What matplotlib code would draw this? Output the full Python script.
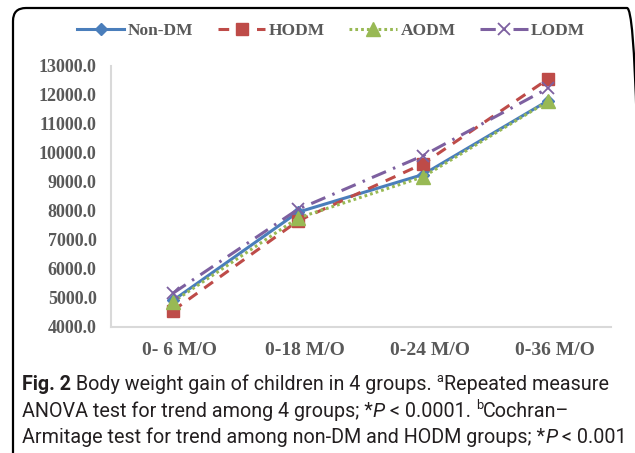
import matplotlib
matplotlib.use("Agg")
import matplotlib.pyplot as plt
from matplotlib.patches import FancyBboxPatch
from matplotlib.transforms import IdentityTransform, ScaledTranslation

categories = ["0- 6 M/O", "0-18 M/O", "0-24 M/O", "0-36 M/O"]
non_dm = [4900, 7950, 9250, 11800]
hodm = [4550, 7650, 9620, 12550]
aodm = [4850, 7750, 9170, 11780]
lodm = [5150, 8050, 9900, 12230]
yticks = [4000, 5000, 6000, 7000, 8000, 9000, 10000, 11000, 12000, 13000]

W, H = 635, 453
fig = plt.figure(figsize=(W / 100, H / 100), dpi=100)

frame = FancyBboxPatch((13, -30), 640 - 13, H - 8 + 30,
                       boxstyle="round,pad=0,rounding_size=13",
                       transform=IdentityTransform(), fill=False,
                       edgecolor="black", linewidth=1.6, clip_on=False)
fig.patches.append(frame)

ax = fig.add_axes([110.5 / W, 1 - 326.5 / H, 500 / W, (326.5 - 66) / H])
x = list(range(len(categories)))
gray = "#595959"
tfont = dict(family="Liberation Serif", weight="bold")

ax.plot(x, non_dm, color="#4A7EBB", lw=2.2, marker="D", ms=6.5, label="Non-DM")
ax.plot(x, hodm, color="#BE4B48", lw=2.2, linestyle=(0, (3.5, 2.8)), marker="s", ms=8.5,
        label="HODM")
ax.plot(x, aodm, color="#98B954", lw=2.2, linestyle=(0, (0.9, 1.0)), marker="^", ms=9.5,
        label="AODM")
ax.plot(x, lodm, color="#7D60A0", lw=2.2, linestyle=(0, (5, 2.5, 0.8, 2.5)), marker="x",
        ms=8, mew=1.3, label="LODM")

ax.set_xlim(-0.5, 3.5)
ax.set_ylim(4000, 13000)
ax.set_yticks(yticks)
ax.set_yticklabels([f"{v:.1f}" for v in yticks], color=gray, size=13, **tfont)
ax.set_xticks(x)
ax.set_xticklabels([])
xlab_tr = ax.get_xaxis_transform() + ScaledTranslation(7 / 100, -28.5 / 100, fig.dpi_scale_trans)
for xi, lab in zip(x, categories):
    ax.text(xi, 0, lab, transform=xlab_tr, ha="center", va="baseline", color=gray,
            size=14, clip_on=False, **tfont)
ax.tick_params(axis="both", length=0)
ax.tick_params(axis="y", pad=10)
for s in ["top", "right"]:
    ax.spines[s].set_visible(False)
for s in ["left", "bottom"]:
    ax.spines[s].set_color("#D9D9D9")
    ax.spines[s].set_linewidth(1.5)
ax.patch.set_alpha(0)

leg = fig.legend(loc="center", bbox_to_anchor=(331 / W, 1 - 31 / H), ncol=4,
                 frameon=False, handlelength=2.75, columnspacing=1.4, handletextpad=0.2,
                 prop=dict(family="Liberation Serif", weight="bold", size=12.5))
for t in leg.get_texts():
    t.set_color(gray)

cap_font = "Roboto"
cap_size = 14.2
lines = [
    [("Fig. 2", "bold", "normal", False), (" Body weight gain of children in 4 groups. ", "normal", "normal", False),
     ("a", "normal", "normal", True), ("Repeated measure", "normal", "normal", False)],
    [("ANOVA test for trend among 4 groups; *", "normal", "normal", False), ("P", "normal", "italic", False),
     (" < 0.0001. ", "normal", "normal", False), ("b", "normal", "normal", True),
     ("Cochran\u2013", "normal", "normal", False)],
    [("Armitage test for trend among non-DM and HODM groups; *", "normal", "normal", False),
     ("P", "normal", "italic", False), (" < 0.001", "normal", "normal", False)],
]
ys = [390, 417, 443]
renderer = fig.canvas.get_renderer()
for line, yb in zip(lines, ys):
    xp = 22
    for txt, wt, st, sup in line:
        size = cap_size * 0.65 if sup else cap_size
        yy = yb - (8 if sup else 0)
        t = fig.text(xp / W, 1 - yy / H, txt, family=cap_font, weight=wt, style=st,
                     size=size, color="#231F20", ha="left", va="baseline")
        bb = t.get_window_extent(renderer=renderer)
        xp += bb.width

fig.savefig("out.png", dpi=100)
